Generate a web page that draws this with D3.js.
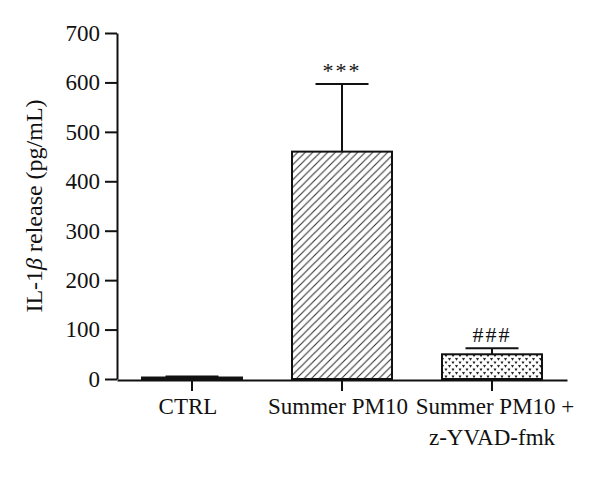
<!DOCTYPE html>
<html>
<head>
<meta charset="utf-8">
<script src="https://cdn.jsdelivr.net/npm/d3@7"></script>
<style>
  body { margin: 0; background: #fff; }
  svg text { font-family: 'Liberation Serif', 'Times New Roman', serif; fill: #111; }
</style>
</head>
<body>
<div id="chart-area"></div>
<script>
// values
const categories = ['CTRL', 'Summer PM10', 'Summer PM10 +\nz-YVAD-fmk'];
const means = [3, 460, 50];
const errors = [2, 137, 12];
const marks = ['', '***', '###'];
const fills = ['none', 'url(#hatch)', 'url(#dots)'];
const yTicks = [0, 100, 200, 300, 400, 500, 600, 700];

let width = 600;
let height = 503;

let svg = d3
  .select('#chart-area')
  .append('svg')
  .attr('width', width)
  .attr('height', height);

let defs = svg.append('defs');

// diagonal hatching for the PM10 bar
let hatch = defs
  .append('pattern')
  .attr('id', 'hatch')
  .attr('patternUnits', 'userSpaceOnUse')
  .attr('width', 7.5)
  .attr('height', 7.5);
hatch.append('rect').attr('width', 7.5).attr('height', 7.5).attr('fill', '#fff');
hatch
  .append('path')
  .attr('d', 'M-1,8.5 L8.5,-1 M-1,1 L1,-1 M6.5,8.5 L8.5,6.5')
  .attr('stroke', '#333')
  .attr('stroke-width', 1.1);

// small dotted pattern for the inhibitor bar
let dots = defs
  .append('pattern')
  .attr('id', 'dots')
  .attr('patternUnits', 'userSpaceOnUse')
  .attr('width', 7)
  .attr('height', 7);
dots.append('rect').attr('width', 7).attr('height', 7).attr('fill', '#fff');
dots
  .append('path')
  .attr('d', 'M0.5,1 L1.5,2.6 L2.5,1 M4,4.5 L5,6.1 L6,4.5')
  .attr('stroke', '#222')
  .attr('fill', 'none')
  .attr('stroke-width', 1.1);

let x = d3.scaleBand().domain(categories).range([117, 567]).paddingInner(1 / 3).paddingOuter(1 / 6);
let y = d3.scaleLinear().domain([0, 700]).range([379, 33]);

// y axis
let yAxis = svg
  .append('g')
  .attr('transform', 'translate(117,0)')
  .call(d3.axisLeft(y).tickValues(yTicks).tickSize(12).tickPadding(5).tickSizeOuter(0));
yAxis.select('.domain').attr('stroke', '#111').attr('stroke-width', 2);
yAxis.selectAll('.tick line').attr('stroke', '#111').attr('stroke-width', 2);
yAxis
  .selectAll('.tick text')
  .style('font-size', '23px')
  .style('font-family', "'Liberation Serif', serif");

// bars
let bars = svg
  .selectAll('.bar')
  .data(categories)
  .enter()
  .append('g')
  .attr('class', 'bar');

bars
  .append('rect')
  .attr('x', (d) => x(d))
  .attr('width', x.bandwidth())
  .attr('y', (d, i) => y(means[i]))
  .attr('height', (d, i) => y(0) - y(means[i]))
  .attr('fill', (d, i) => fills[i])
  .attr('stroke', '#111')
  .attr('stroke-width', 2);

// error bars, upward only
let cap = 53;
bars
  .append('line')
  .attr('x1', (d) => x(d) + x.bandwidth() / 2)
  .attr('x2', (d) => x(d) + x.bandwidth() / 2)
  .attr('y1', (d, i) => y(means[i]))
  .attr('y2', (d, i) => y(means[i] + errors[i]))
  .attr('stroke', '#111')
  .attr('stroke-width', 2);
bars
  .append('line')
  .attr('x1', (d) => x(d) + x.bandwidth() / 2 - cap / 2)
  .attr('x2', (d) => x(d) + x.bandwidth() / 2 + cap / 2)
  .attr('y1', (d, i) => y(means[i] + errors[i]))
  .attr('y2', (d, i) => y(means[i] + errors[i]))
  .attr('stroke', '#111')
  .attr('stroke-width', 2);

// significance marks
bars
  .append('text')
  .attr('x', (d) => x(d) + x.bandwidth() / 2)
  .attr('y', (d, i) => y(means[i] + errors[i]) - 6)
  .attr('text-anchor', 'middle')
  .style('font-size', '22px')
  .style('letter-spacing', '2px')
  .text((d, i) => marks[i]);

// x axis
let xAxis = svg
  .append('g')
  .attr('transform', 'translate(0,380)')
  .call(d3.axisBottom(x).tickSize(11).tickSizeOuter(0).tickFormat(''));
xAxis.select('.domain').attr('stroke', '#111').attr('stroke-width', 2);
xAxis.selectAll('.tick line').attr('stroke', '#111').attr('stroke-width', 2);

// category labels, may wrap onto two lines
xAxis
  .selectAll('.tick')
  .append('text')
  .attr('text-anchor', 'middle')
  .style('font-size', '23px')
  .style('font-family', "'Liberation Serif', serif")
  .each(function (d) {
    let lines = d.split('\n');
    d3.select(this)
      .selectAll('tspan')
      .data(lines)
      .enter()
      .append('tspan')
      .attr('x', (l, i) => (i == 0 && lines.length > 1 ? 3 : lines.length > 1 ? 0 : -4))
      .attr('y', (l, i) => 34 + i * 31)
      .text((l) => l);
  });

// y axis title
svg
  .append('text')
  .attr('transform', 'translate(42,206) rotate(-90)')
  .attr('text-anchor', 'middle')
  .style('font-size', '24px')
  .html('IL-1<tspan font-style="italic">β</tspan> release (pg/mL)');
</script>
</body>
</html>
